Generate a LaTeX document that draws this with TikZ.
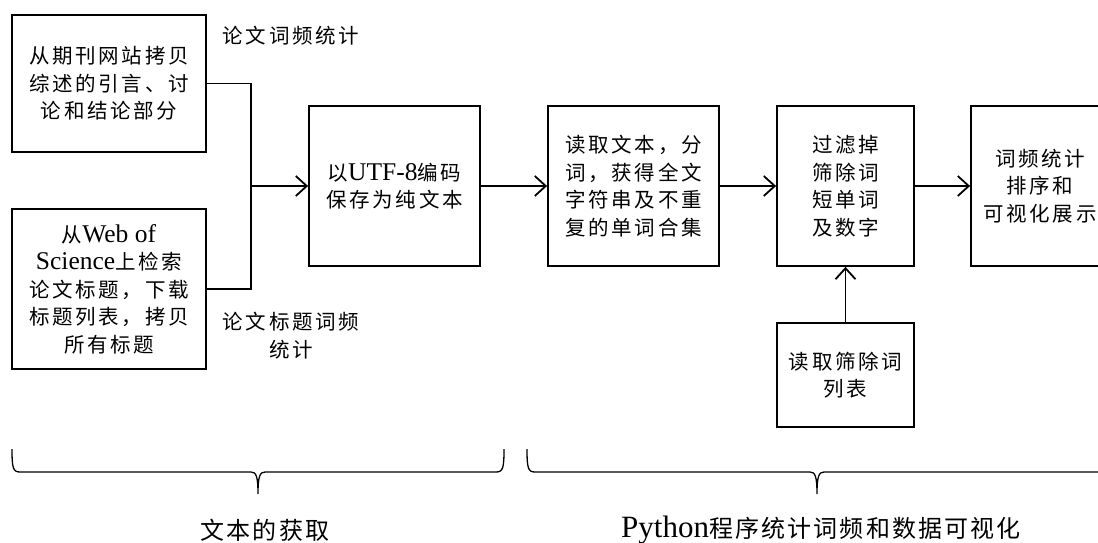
\documentclass[tikz,border=0pt]{standalone}
\usepackage{fontspec}
\setmainfont{Noto Sans CJK SC}[LetterSpace=13]
\newfontfamily\latf{Liberation Serif}
\newfontfamily\cjkbig{Noto Sans CJK SC}[LetterSpace=9]
\usetikzlibrary{arrows.meta}
\newcommand{\entext}[1]{{\latf\fontsize{25.5}{27.5}\selectfont #1}}
\newcommand{\enbig}[1]{{\latf\fontsize{31}{32}\selectfont #1}}
\begin{document}
\begin{tikzpicture}[x=1pt,y=-1pt,
  box/.style={draw, line width=1.8pt, inner sep=0pt, align=center, font=\fontsize{20.5}{27.5}\selectfont},
  conn/.style={line width=1.8pt},
  arr/.style={conn, -{Straight Barb[length=11pt,width=20pt]}},
  lab/.style={align=center, inner sep=0pt, font=\fontsize{20.5}{28}\selectfont},
  brace/.style={line width=1.3pt},
  big/.style={inner sep=0pt, font=\cjkbig\fontsize{24}{26}\selectfont}]
\useasboundingbox (0,0) rectangle (1098,543);
\clip (0,0) rectangle (1098,543);
\fill[white] (0,0) rectangle (1098,543);
% boxes
\node[box, minimum width=194pt, minimum height=137pt] (A) at (109,83.5) {从期刊网站拷贝\\综述的引言、讨\\论和结论部分};
\node[box, minimum width=194pt, minimum height=160pt] (B) at (109,289) {从\entext{Web of}\\\entext{Science}上检索\\论文标题，下载\\标题列表，拷贝\\所有标题};
\node[box, minimum width=171pt, minimum height=160pt] (C) at (394.5,186) {以\entext{UTF-8}编码\\保存为纯文本};
\node[box, minimum width=171pt, minimum height=160pt] (D) at (633.5,186) {读取文本，分\\词，获得全文\\字符串及不重\\复的单词合集};
\node[box, minimum width=137pt, minimum height=160pt] (E) at (845.5,186) {过滤掉\\筛除词\\短单词\\及数字};
\node[box, minimum width=138pt, minimum height=160pt] (F) at (1040,186) {词频统计\\排序和\\可视化展示};
\node[box, minimum width=137pt, minimum height=104pt] (G) at (845.5,375) {读取筛除词\\列表};
% labels
\node[lab] (LA) at (291,36) {论文词频统计};
\node[lab] (LB) at (291,336) {论文标题词频\\统计};
% connectors
\coordinate (J) at (251,186);
\draw[conn] (A.east) -| (J);
\draw[conn] (B.east) -| (J);
\draw[arr] (J) -- (C.west);
\draw[arr] (C.east) -- (D.west);
\draw[arr] (D.east) -- (E.west);
\draw[arr] (E.east) -- (F.west);
\draw[arr] (G.north) -- (E.south);
% braces
\draw[brace] (12,449) .. controls (12,468) and (13,472) .. (20,472) -- (251,472)
  .. controls (256,472) and (258,476) .. (258,494)
  .. controls (258,476) and (260,472) .. (265,472) -- (496,472)
  .. controls (503,472) and (504,468) .. (504,449);
\draw[brace] (527,449) .. controls (527,468) and (528,472) .. (535,472) -- (810,472)
  .. controls (815,472) and (817,476) .. (817,494)
  .. controls (817,476) and (819,472) .. (824,472) -- (1099,472)
  .. controls (1106,472) and (1107,468) .. (1107,449);
\node[big] (T1) at (265,530) {文本的获取};
\node[big] (T2) at (821,530) {\enbig{Python}程序统计词频和数据可视化};
\end{tikzpicture}
\end{document}
